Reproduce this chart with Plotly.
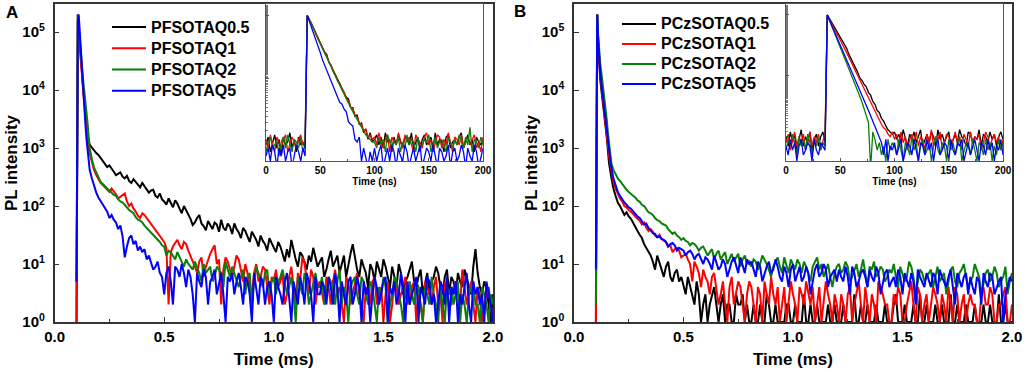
import numpy as np
import plotly.graph_objects as go

# ---------------- data ----------------
# main time grid (ms): dense head around the excitation peak, then regular 0.01 ms sampling
t_head = [0.100, 0.103, 0.106, 0.110, 0.115, 0.120, 0.125, 0.130, 0.135, 0.140,
          0.145, 0.150, 0.155, 0.160, 0.170, 0.180, 0.190, 0.200]
t_main = t_head + [round(v, 2) for v in np.arange(0.21, 2.0001, 0.01)]

# inset time grid (ns)
t_ns = list(range(0, 201, 2))

names_a = ["PFSOTAQ0.5", "PFSOTAQ1", "PFSOTAQ2", "PFSOTAQ5"]
names_b = ["PCzSOTAQ0.5", "PCzSOTAQ1", "PCzSOTAQ2", "PCzSOTAQ5"]
colors = ["#000000", "#ff0000", "#0a800a", "#0000ff"]

a_black = [1, 90000, 200000, 110000, 55000, 28000, 17000, 11000, 7000, 4200, 2600, 1800, 1350, 1150, 1020, 900, 820, 760,
           680, 600, 520, 470, 500, 450, 390, 340, 360, 380, 320, 300, 330, 270, 250, 290, 260, 230, 210, 250,
           220, 200, 170, 185, 190, 150, 140, 165, 130, 120, 105, 135, 115, 95, 125, 110, 90, 75, 100, 85,
           68, 60, 47, 52, 62, 70, 50, 45, 38, 55, 47, 40, 52, 48, 36, 58, 42, 38, 50, 44,
           33, 50, 40, 35, 28, 42, 37, 30, 24, 36, 31, 26, 20, 31, 25, 22, 17, 28, 23, 19,
           16, 24, 20, 15, 11, 18, 13, 26, 17, 12, 9, 16, 14, 10, 8, 14, 11, 19, 13, 9,
           11, 13, 6, 8, 12, 17, 9, 11, 14, 7, 10, 14, 6, 10, 15, 22, 13, 8, 6, 12,
           9, 7, 4, 10, 8, 5, 11, 8, 6, 12, 9, 6, 4, 9, 6, 4, 10, 7, 3, 5,
           6, 8, 11, 5, 4, 6, 8, 3, 5, 7, 3, 5, 6, 9, 7, 4, 3, 6, 8, 3,
           6, 5, 3, 7, 5, 4, 8, 6, 4, 3, 9, 18, 7, 4, 3, 5, 4, 2, 1, 3]
a_red = [1, 120000, 200000, 100000, 50000, 25000, 15000, 10000, 6000, 3500, 2000, 1300, 950, 800, 560, 420, 340, 290,
         250, 230, 210, 190, 175, 200, 180, 160, 135, 145, 150, 165, 120, 100, 110, 90, 80, 68, 62, 75,
         70, 62, 55, 48, 43, 38, 34, 30, 27, 24, 19, 2, 16, 20, 23, 26, 21, 18, 24, 22,
         17, 14, 11, 9, 7, 11, 13, 6, 9, 12, 15, 18, 21, 10, 12, 2, 8, 13, 11, 8,
         6, 9, 14, 12, 8, 5, 10, 7, 4, 3, 7, 10, 5, 6, 9, 8, 4, 2, 6, 5,
         8, 4, 5, 7, 2, 3, 6, 9, 4, 2, 7, 5, 13, 11, 5, 3, 8, 6, 2, 4,
         5, 3, 2, 6, 4, 2, 5, 8, 3, 4, 2, 1, 6, 5, 2, 3, 5, 7, 3, 2,
         1, 4, 3, 2, 5, 6, 2, 3, 4, 1, 3, 5, 1, 2, 5, 4, 2, 3, 4, 6,
         3, 2, 4, 5, 1, 3, 2, 1, 5, 4, 3, 2, 4, 6, 2, 3, 1, 5, 3, 2,
         2, 4, 5, 3, 2, 8, 4, 2, 3, 5, 2, 1, 4, 3, 1, 2, 3, 4, 2, 1]
a_green = [5, 100000, 200000, 130000, 70000, 40000, 24000, 15000, 10000, 7000, 4500, 2800, 1600, 1000, 640, 460, 380, 320,
           260, 240, 215, 200, 185, 170, 155, 150, 130, 120, 115, 105, 92, 85, 80, 75, 64, 58, 56, 52,
           46, 42, 37, 34, 31, 28, 26, 24, 21, 20, 14, 17, 16, 14, 12, 16, 13, 11, 9, 12,
           10, 9, 8, 11, 9, 7, 5, 10, 7, 8, 9, 5, 6, 9, 8, 7, 4, 11, 8, 6,
           9, 7, 5, 4, 6, 8, 3, 6, 7, 2, 5, 9, 7, 5, 4, 7, 8, 3, 5, 6,
           3, 5, 6, 8, 5, 3, 4, 6, 3, 1, 6, 4, 3, 7, 5, 2, 3, 5, 7, 4,
           4, 6, 2, 3, 6, 5, 4, 2, 5, 8, 2, 4, 3, 1, 4, 5, 6, 3, 2, 6,
           5, 3, 2, 5, 4, 2, 1, 4, 3, 6, 4, 1, 2, 3, 6, 5, 3, 2, 1, 4,
           2, 5, 3, 2, 5, 4, 2, 1, 4, 3, 2, 6, 3, 2, 1, 4, 2, 1, 4, 3,
           4, 2, 3, 5, 1, 3, 2, 1, 3, 4, 5, 2, 2, 1, 4, 3, 2, 1, 3, 2]
a_blue = [5, 60000, 150000, 200000, 90000, 40000, 18000, 9000, 5000, 2800, 1500, 900, 560, 420, 300, 220, 170, 140,
          120, 105, 90, 80, 62, 70, 58, 52, 40, 46, 30, 13, 20, 28, 31, 22, 25, 17, 20, 16,
          18, 12, 14, 10, 8, 9, 11, 7, 6, 3, 7, 9, 5, 2, 9, 8, 6, 10, 7, 4,
          8, 6, 3, 1, 7, 5, 4, 8, 6, 2, 5, 6, 8, 3, 5, 7, 3, 1, 6, 5,
          7, 3, 5, 7, 4, 2, 6, 5, 3, 1, 7, 4, 2, 6, 5, 2, 4, 5, 3, 1,
          6, 4, 3, 2, 5, 7, 3, 1, 5, 3, 2, 6, 4, 2, 7, 5, 3, 1, 6, 3,
          3, 5, 4, 2, 6, 4, 2, 7, 4, 1, 5, 3, 2, 5, 6, 2, 3, 6, 4, 1,
          5, 3, 4, 1, 3, 6, 4, 2, 3, 5, 6, 1, 4, 3, 5, 2, 3, 7, 4, 1,
          5, 2, 3, 4, 6, 1, 4, 3, 2, 6, 5, 2, 3, 1, 2, 5, 4, 2, 6, 1,
          4, 3, 5, 1, 3, 2, 4, 7, 2, 1, 5, 3, 4, 2, 3, 1, 5, 3, 2, 1]

b_black = [1, 60000, 200000, 60000, 25000, 15000, 10000, 7000, 5000, 3500, 2500, 1500, 900, 550, 320, 200, 150, 115,
           100, 85, 70, 78, 66, 60, 50, 44, 37, 32, 28, 22, 19, 16, 14, 11, 8, 14, 10, 8,
           6, 9, 11, 6, 5, 7, 8, 5, 6, 4, 3, 6, 4, 3, 2, 5, 3, 1, 2, 3,
           1, 2, 3, 4, 2, 1, 2, 3, 1, 2, 2, 1, 1, 3, 2, 2, 3, 1, 2, 1,
           1, 2, 1, 1, 2, 1, 1, 3, 2, 1, 1, 2, 1, 1, 1, 1, 2, 2, 1, 1,
           2, 1, 1, 1, 3, 1, 1, 2, 1, 1, 2, 1, 1, 1, 1, 2, 1, 1, 2, 1,
           1, 1, 2, 1, 1, 1, 1, 3, 1, 1, 2, 1, 1, 2, 1, 1, 1, 2, 1, 1,
           1, 2, 1, 1, 1, 2, 3, 1, 1, 1, 2, 1, 1, 1, 2, 1, 1, 3, 1, 1,
           2, 1, 1, 1, 2, 1, 1, 2, 1, 1, 1, 3, 1, 1, 2, 1, 1, 1, 2, 1,
           1, 1, 2, 1, 1, 1, 2, 1, 1, 2, 1, 1, 1, 3, 1, 1, 2, 1, 1, 1]
b_red = [1, 70000, 200000, 70000, 30000, 18000, 12000, 8000, 5500, 3800, 2600, 1700, 1100, 750, 420, 260, 200, 165,
         135, 120, 100, 95, 85, 80, 72, 66, 60, 56, 48, 52, 42, 37, 40, 36, 31, 29, 32, 27,
         25, 24, 20, 21, 16, 18, 19, 17, 13, 14, 15, 12, 10, 5, 11, 9, 7, 4, 8, 6,
         5, 3, 6, 7, 4, 2, 3, 5, 2, 1, 4, 6, 2, 3, 5, 4, 2, 1, 3, 5,
         4, 2, 1, 4, 3, 1, 5, 3, 2, 6, 3, 2, 4, 1, 2, 4, 1, 2, 5, 3,
         2, 1, 4, 3, 2, 5, 3, 2, 4, 1, 2, 4, 1, 2, 5, 3, 2, 1, 3, 2,
         1, 3, 2, 1, 3, 4, 1, 2, 3, 5, 2, 1, 4, 2, 1, 3, 2, 1, 5, 4,
         3, 2, 2, 1, 1, 3, 2, 4, 3, 1, 1, 2, 3, 5, 2, 1, 4, 3, 1, 2,
         3, 1, 2, 4, 3, 2, 1, 3, 2, 1, 4, 2, 1, 4, 3, 1, 2, 3, 1, 2,
         3, 2, 2, 1, 1, 3, 4, 2, 2, 4, 3, 1, 1, 2, 2, 3, 4, 1, 1, 2]
b_green = [2, 50000, 200000, 90000, 45000, 28000, 20000, 14000, 10000, 7000, 5000, 3000, 1800, 1100, 560, 420, 350, 300,
           270, 240, 210, 190, 175, 160, 150, 140, 125, 118, 105, 100, 88, 78, 75, 70, 62, 57, 55, 50,
           48, 46, 40, 37, 33, 35, 31, 29, 26, 28, 25, 24, 21, 23, 22, 20, 17, 19, 20, 17,
           14, 16, 18, 12, 15, 17, 12, 14, 16, 10, 12, 15, 11, 13, 15, 9, 12, 14, 10, 11,
           9, 12, 11, 8, 10, 14, 12, 10, 8, 6, 9, 11, 13, 9, 7, 13, 10, 7, 12, 10,
           8, 12, 10, 7, 11, 9, 7, 5, 9, 11, 13, 8, 10, 6, 8, 10, 6, 4, 7, 9,
           10, 7, 8, 11, 9, 5, 6, 8, 10, 6, 8, 12, 7, 4, 9, 8, 11, 6, 7, 9,
           8, 5, 6, 8, 7, 10, 6, 4, 9, 7, 5, 6, 11, 9, 6, 3, 5, 8, 7, 5,
           6, 7, 8, 4, 6, 9, 5, 6, 7, 3, 5, 8, 9, 5, 4, 7, 8, 10, 6, 4,
           5, 6, 10, 8, 6, 3, 5, 7, 8, 5, 6, 9, 7, 4, 5, 6, 9, 3, 5, 7]
b_blue = [8, 60000, 200000, 80000, 35000, 20000, 13000, 9000, 6000, 4200, 2900, 1900, 1200, 800, 470, 300, 220, 175,
          150, 130, 115, 105, 95, 90, 80, 72, 66, 62, 55, 48, 50, 42, 38, 34, 33, 29, 30, 27,
          26, 24, 20, 22, 23, 21, 17, 19, 18, 17, 14, 16, 17, 15, 12, 14, 15, 12, 10, 13,
          12, 10, 8, 14, 11, 8, 9, 12, 10, 6, 8, 11, 13, 9, 7, 13, 10, 7, 12, 10,
          11, 8, 6, 11, 9, 5, 7, 9, 11, 7, 8, 12, 9, 6, 5, 9, 7, 4, 8, 10,
          5, 7, 9, 5, 6, 9, 7, 3, 5, 8, 10, 6, 7, 10, 8, 4, 6, 7, 8, 5,
          8, 6, 5, 9, 6, 3, 9, 7, 4, 5, 7, 8, 6, 4, 8, 6, 5, 9, 7, 3,
          5, 7, 8, 4, 5, 6, 4, 8, 6, 3, 7, 5, 4, 7, 5, 2, 8, 6, 5, 4,
          7, 5, 4, 7, 6, 3, 8, 6, 5, 4, 6, 8, 4, 2, 7, 5, 4, 6, 7, 3,
          6, 4, 3, 6, 5, 2, 7, 5, 4, 7, 6, 3, 4, 5, 6, 1, 3, 4, 6, 5]

# insets (ns traces, counts)
ia_black = [9, 12, 7, 10, 13, 8, 11, 6, 12, 9, 10, 14, 8, 11, 7, 12, 9, 10, 8,
            1000, 880, 740, 620, 520, 450, 380, 315, 265, 240, 180, 160, 135, 112, 96, 82, 70, 60, 51, 48, 35,
            35, 25, 27, 19, 20, 14, 16, 11, 14, 10,
            11, 13, 9, 12, 8, 14, 10, 11, 7, 12, 9, 13, 10, 8, 12, 11, 9, 14, 8, 10,
            12, 7, 11, 13, 9, 10, 12, 8, 14, 9, 11, 10, 7, 12, 13, 8, 10, 11, 9, 12,
            14, 8, 10, 13, 9, 11, 7, 12, 10, 9, 11]
ia_red = [11, 8, 13, 9, 7, 12, 10, 8, 11, 13, 7, 9, 12, 10, 8, 11, 13, 9, 10,
          1000, 870, 730, 610, 510, 440, 370, 310, 260, 230, 185, 165, 130, 115, 92, 85, 68, 62, 49, 45, 36,
          33, 27, 25, 20, 19, 15, 16, 12, 13, 11,
          12, 9, 14, 10, 8, 11, 13, 7, 12, 10, 9, 14, 11, 8, 13, 10, 12, 9, 7, 13,
          11, 10, 8, 12, 14, 9, 11, 7, 10, 13, 12, 8, 11, 9, 14, 10, 7, 12, 11, 9,
          13, 8, 10, 12, 9, 11, 13, 8, 10, 7, 12]
ia_green = [7, 10, 12, 8, 9, 11, 6, 10, 12, 8, 13, 9, 7, 11, 10, 8, 12, 7, 9,
            1000, 860, 720, 610, 500, 430, 365, 300, 255, 220, 180, 155, 128, 110, 90, 78, 66, 57, 48, 42, 35,
            30, 26, 23, 19, 17, 15, 13, 12, 11, 10,
            10, 8, 12, 9, 11, 7, 13, 10, 8, 11, 9, 12, 7, 10, 8, 13, 9, 11, 10, 7,
            12, 8, 9, 11, 10, 13, 7, 9, 12, 8, 10, 11, 9, 7, 12, 10, 8, 11, 9, 13,
            10, 8, 12, 9, 17, 7, 11, 10, 8, 12, 9]
ia_blue = [6, 8, 5, 9, 7, 4, 8, 6, 9, 5, 7, 8, 4, 6, 9, 7, 5, 8, 6,
           1000, 800, 640, 520, 420, 340, 260, 200, 165, 135, 110, 92, 76, 64, 54, 42, 40, 33, 30, 21, 19,
           18, 11, 10, 12, 5, 8, 6, 4, 7, 5,
           8, 5, 7, 9, 4, 6, 8, 5, 9, 7, 4, 8, 6, 5, 9, 7, 4, 6, 8, 5,
           7, 9, 4, 6, 8, 7, 5, 9, 6, 4, 8, 7, 5, 6, 9, 4, 7, 8, 5, 6,
           9, 7, 4, 8, 6, 5, 9, 7, 4, 6, 8]

ib_black = [10, 7, 12, 8, 11, 6, 9, 13, 7, 10, 8, 12, 6, 9, 11, 7, 10, 12, 8,
            1000, 880, 760, 660, 570, 490, 420, 360, 310, 280, 225, 190, 170, 135, 115, 92, 84, 72, 66, 53, 48,
            38, 34, 27, 25, 20, 18, 15, 13, 12, 11,
            12, 9, 11, 8, 13, 10, 7, 11, 9, 12, 8, 10, 13, 7, 9, 11, 8, 12, 10, 7,
            13, 9, 11, 8, 10, 12, 7, 9, 11, 8, 13, 10, 9, 7, 12, 11, 8, 10, 9, 13,
            7, 11, 10, 8, 12, 9, 11, 7, 10, 12, 9]
ib_red = [8, 11, 6, 9, 12, 7, 10, 8, 11, 6, 9, 12, 7, 10, 8, 11, 6, 9, 12,
          1000, 860, 740, 630, 540, 460, 390, 330, 280, 240, 200, 170, 142, 120, 100, 85, 72, 60, 51, 43, 36,
          30, 26, 22, 19, 16, 14, 13, 11, 10, 12,
          9, 11, 7, 12, 8, 10, 6, 9, 11, 8, 12, 7, 10, 9, 6, 11, 8, 13, 7, 10,
          9, 12, 6, 8, 11, 10, 7, 9, 12, 8, 10, 6, 11, 9, 7, 12, 8, 10, 9, 11,
          6, 8, 12, 10, 7, 9, 11, 8, 10, 6, 9]
ib_green = [6, 9, 7, 11, 8, 5, 10, 7, 9, 6, 11, 8, 5, 9, 7, 10, 6, 8, 7,
            1000, 820, 670, 550, 450, 370, 300, 245, 200, 165, 132, 108, 88, 71, 57, 46, 37, 29, 22, 17, 3,
            12, 9, 6, 8, 5, 7, 4, 9, 6, 8,
            7, 5, 9, 6, 4, 8, 7, 5, 10, 6, 8, 4, 7, 9, 5, 6, 8, 4, 7, 10,
            6, 5, 8, 7, 4, 9, 6, 8, 5, 7, 10, 4, 6, 8, 7, 5, 9, 6, 4, 8,
            7, 5, 9, 6, 8, 4, 7, 5, 9, 6, 8]
ib_blue = [7, 5, 9, 6, 8, 4, 7, 9, 5, 6, 8, 7, 4, 9, 6, 5, 8, 7, 6,
           1000, 830, 690, 570, 470, 390, 320, 265, 220, 180, 150, 122, 100, 84, 70, 58, 48, 40, 33, 27, 22,
           18, 15, 12, 10, 8, 5, 9, 4, 7, 6,
           8, 5, 7, 9, 4, 6, 8, 7, 5, 9, 6, 4, 8, 7, 5, 9, 6, 8, 4, 7,
           9, 5, 6, 8, 7, 4, 9, 6, 5, 8, 7, 9, 4, 6, 8, 5, 7, 9, 6, 4,
           8, 7, 5, 9, 6, 8, 4, 7, 6, 9, 5]

main_a = [a_black, a_red, a_green, a_blue]
main_b = [b_black, b_red, b_green, b_blue]
inset_a = [ia_black, ia_red, ia_green, ia_blue]
inset_b = [ib_black, ib_red, ib_green, ib_blue]

for s in main_a + main_b:
    assert len(s) == len(t_main), (len(s), len(t_main))
for s in inset_a + inset_b:
    assert len(s) == len(t_ns), (len(s), len(t_ns))

# ---------------- figure ----------------
W, H = 1026, 372
FONT = "Liberation Sans"


def fx(p):
    return p / W


def fy(p):
    return 1 - p / H


def leg_name(s):
    # legend row height follows the legend font size; the entry text itself is drawn at 16px
    return '<span style="font-size:16px">%s</span>' % s


fig = go.Figure()

for name, ys, c in zip(names_a, main_a, colors):
    fig.add_trace(go.Scatter(x=t_main, y=ys, mode="lines", name=leg_name(name),
                             line=dict(color=c, width=2), xaxis="x", yaxis="y",
                             legend="legend"))
for name, ys, c in zip(names_b, main_b, colors):
    fig.add_trace(go.Scatter(x=t_main, y=ys, mode="lines", name=leg_name(name),
                             line=dict(color=c, width=2), xaxis="x2", yaxis="y2",
                             legend="legend2"))
for ys, c in zip(inset_a, colors):
    fig.add_trace(go.Scatter(x=t_ns, y=ys, mode="lines", showlegend=False,
                             line=dict(color=c, width=1.3), xaxis="x3", yaxis="y3"))
for ys, c in zip(inset_b, colors):
    fig.add_trace(go.Scatter(x=t_ns, y=ys, mode="lines", showlegend=False,
                             line=dict(color=c, width=1.3), xaxis="x4", yaxis="y4"))

tick_font = dict(family=FONT, size=15, color="black", weight="bold")
title_font = dict(family=FONT, size=17, color="black", weight="bold")
small_font = dict(family=FONT, size=10, color="black", weight="bold")

main_yvals = [1, 10, 100, 1000, 10000, 100000]
main_ytext = ["10<sup>%d</sup>" % i for i in range(6)]


def main_x(domain, anchor):
    return dict(domain=domain, anchor=anchor, range=[0, 2], tickvals=[0, 0.5, 1.0, 1.5, 2.0],
                ticktext=["0.0", "0.5", "1.0", "1.5", "2.0"], ticks="inside", ticklen=5,
                tickwidth=1.2, tickcolor="#333", showline=True, mirror=True, linecolor="#333",
                linewidth=1.5, showgrid=False, zeroline=False, tickfont=tick_font,
                automargin=False,
                minor=dict(tickvals=[0.25, 0.75, 1.25, 1.75], ticks="inside", ticklen=3,
                           tickcolor="#333", showgrid=False),
                title=dict(text="Time (ms)", font=title_font, standoff=9))


def main_y(domain, anchor):
    return dict(domain=domain, anchor=anchor, type="log", range=[0, 5.483],
                tickvals=main_yvals, ticktext=main_ytext, ticks="inside", ticklen=5,
                tickwidth=1.2, tickcolor="#333", showline=True, mirror=True, linecolor="#333",
                linewidth=1.5, showgrid=False, zeroline=False, tickfont=tick_font,
                ticklabelstandoff=5, automargin=False,
                title=dict(text="PL intensity", font=title_font, standoff=0))


def inset_x(domain, anchor):
    return dict(domain=domain, anchor=anchor, range=[0, 200], tickvals=[0, 50, 100, 150, 200],
                ticks="inside", ticklen=3, tickcolor="#555", showline=True, mirror=True,
                linecolor="#555", linewidth=1.2, showgrid=False, zeroline=False,
                tickfont=small_font, automargin=False,
                minor=dict(tickvals=[25, 75, 125, 175], ticks="inside",
                           ticklen=2, tickcolor="#555", showgrid=False),
                title=dict(text="Time (ns)", font=small_font, standoff=0))


def inset_y(domain, anchor, rng):
    return dict(domain=domain, anchor=anchor, type="log", range=rng,
                tickvals=[10, 100, 1000], showticklabels=False, ticks="inside", ticklen=3,
                tickcolor="#555", showline=True, mirror=True, linecolor="#555", linewidth=1.2,
                showgrid=False, zeroline=False, automargin=False,
                minor=dict(ticks="inside", ticklen=2, tickcolor="#777", showgrid=False))


leg_common = dict(bgcolor="rgba(0,0,0,0)", xanchor="left", yanchor="top",
                  tracegroupgap=0, itemwidth=34)

fig.update_layout(
    width=W, height=H, margin=dict(l=0, r=0, t=0, b=0, autoexpand=False),
    paper_bgcolor="white", plot_bgcolor="white",
    xaxis=main_x([fx(54.6), fx(493)], "y"),
    yaxis=main_y([fy(322), fy(4)], "x"),
    xaxis2=main_x([fx(574), fx(1012)], "y2"),
    yaxis2=main_y([fy(322), fy(4)], "x2"),
    xaxis3=inset_x([fx(266), fx(483)], "y3"),
    yaxis3=inset_y([fy(161), fy(4)], "x3", [0.7, 3.18]),
    xaxis4=inset_x([fx(786), fx(1003)], "y4"),
    yaxis4=inset_y([fy(161), fy(4)], "x4", [0.6, 3.18]),
    legend=dict(x=fx(107), y=fy(11.5),
                font=dict(family=FONT, size=14.0, color="black", weight="bold"), **leg_common),
    legend2=dict(x=fx(617), y=fy(9),
                 font=dict(family=FONT, size=13.1, color="black", weight="bold"), **leg_common),
    annotations=[
        dict(text="A", x=fx(4), y=fy(13), xref="paper", yref="paper", showarrow=False,
             xanchor="left", yanchor="middle", font=dict(family=FONT, size=17, color="black", weight="bold")),
        dict(text="B", x=fx(512), y=fy(12), xref="paper", yref="paper", showarrow=False,
             xanchor="left", yanchor="middle", font=dict(family=FONT, size=17, color="black", weight="bold")),
    ],
)

fig.write_html("out.html", config={"displayModeBar": False},
               post_script="document.body.style.margin='0';document.body.style.overflow='hidden';")
